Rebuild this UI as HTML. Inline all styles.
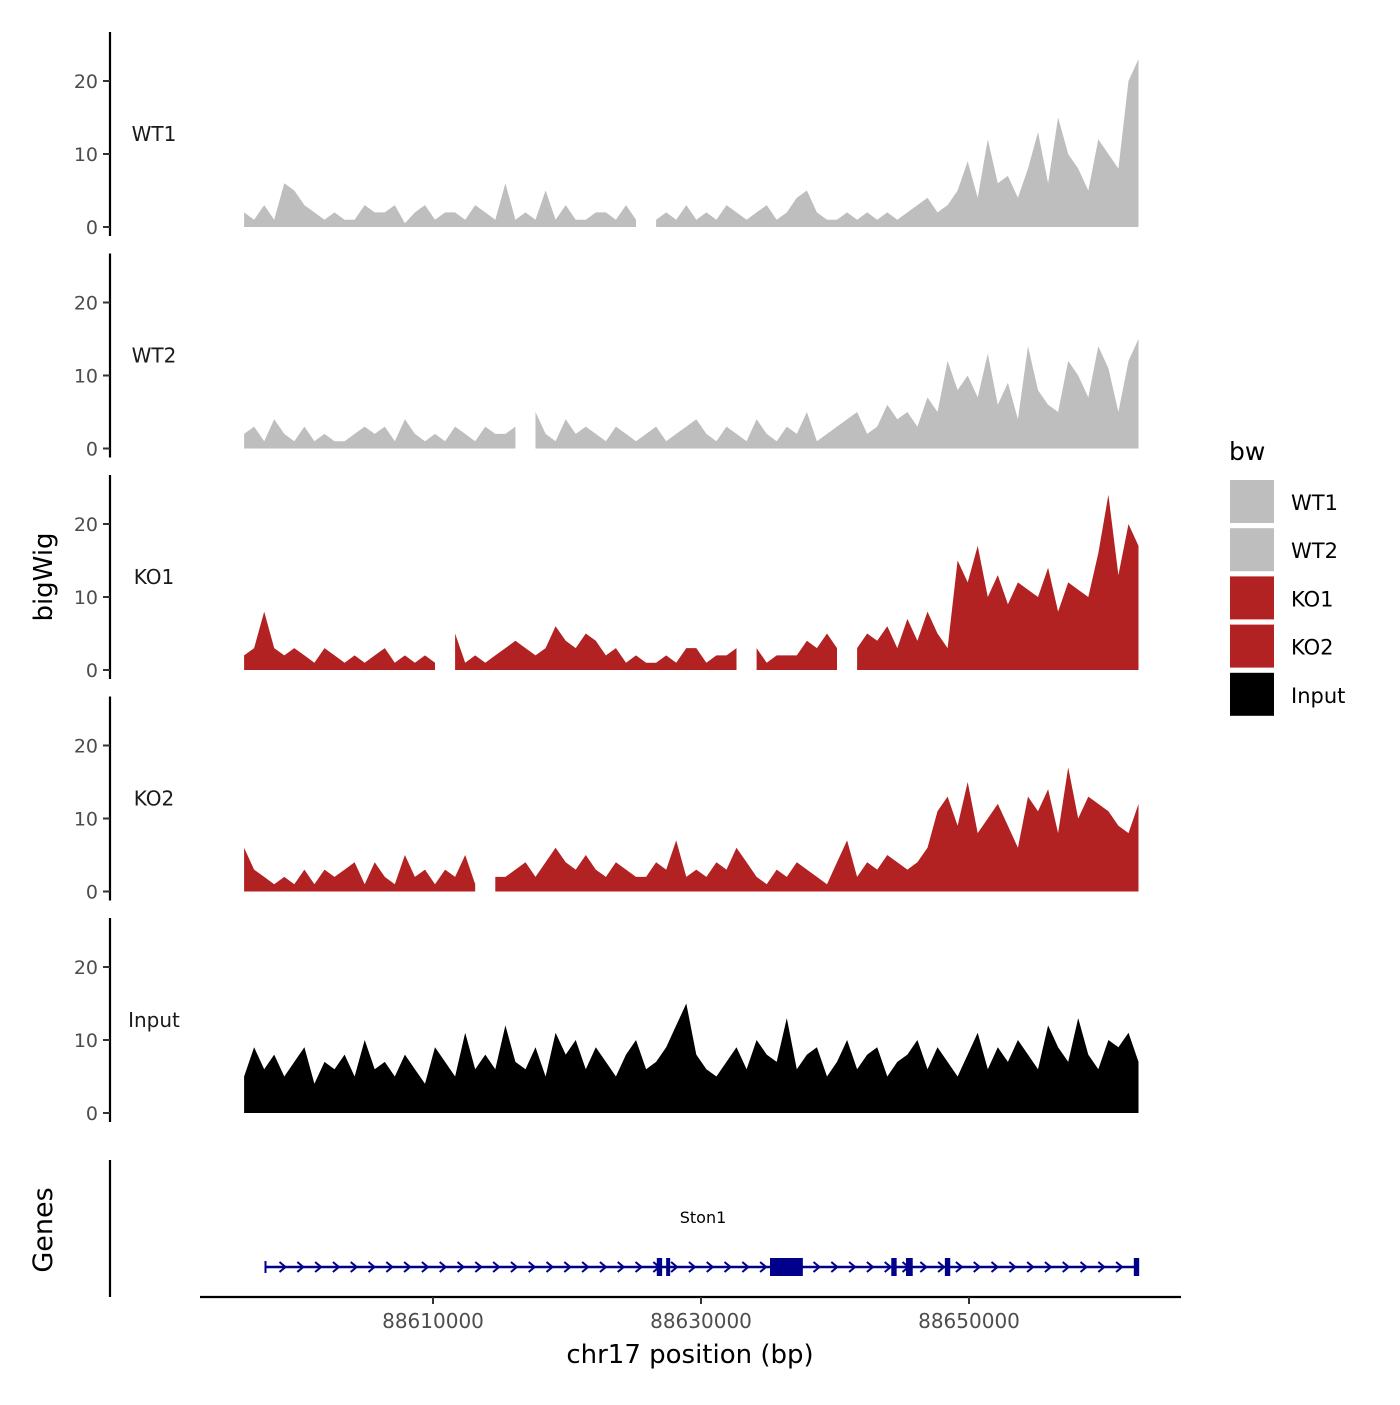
<!DOCTYPE html>
<html><head><meta charset="utf-8"><style>
body{margin:0;background:#fff}
svg{font-family:"DejaVu Sans","Liberation Sans",sans-serif}
</style></head><body>
<svg id="c" width="1400" height="1400" viewBox="0 0 1400 1400" xmlns="http://www.w3.org/2000/svg"></svg>
<script>
const binStart = 88595900;
const binSize = 750;
const trackNames = ["WT1","WT2","KO1","KO2","Input"];
const trackColors = ["#bebebe","#bebebe","#b22222","#b22222","#000000"];
const yTicks = [0,10,20];
const xTicks = [88610000,88630000,88650000];
const wt1 = [2,1,3,1,6,5,3,2,1,2,1,1,3,2,2,3,0.5,2,3,1,2,2,1,3,2,1,6,1,2,1,5,1,3,1,1,2,2,1,3,1,null,1,2,1,3,1,2,1,3,2,1,2,3,1,2,4,5,2,1,1,2,1,2,1,2,1,2,3,4,2,3,5,9,4,12,6,7,4,8,13,6,15,10,8,5,12,10,8,20,23];
const wt2 = [2,3,1,4,2,1,3,1,2,1,1,2,3,2,3,1,4,2,1,2,1,3,2,1,3,2,2,3,null,5,2,1,4,2,3,2,1,3,2,1,2,3,1,2,3,4,2,1,3,2,1,4,2,1,3,2,5,1,2,3,4,5,2,3,6,4,5,3,7,5,12,8,10,7,13,6,9,4,14,8,6,5,12,10,7,14,11,5,12,15];
const ko1 = [2,3,8,3,2,3,2,1,3,2,1,2,1,2,3,1,2,1,2,1,null,5,1,2,1,2,3,4,3,2,3,6,4,3,5,4,2,3,1,2,1,1,2,1,3,3,1,2,2,3,null,3,1,2,2,2,4,3,5,3,null,3,5,4,6,3,7,4,8,5,3,15,12,17,10,13,9,12,11,10,14,8,12,11,10,16,24,13,20,17];
const ko2 = [6,3,2,1,2,1,3,1,3,2,3,4,1,4,2,1,5,2,3,1,3,2,5,1,null,2,2,3,4,2,4,6,4,3,5,3,2,4,3,2,2,4,3,7,2,3,2,4,3,6,4,2,1,3,2,4,3,2,1,4,7,2,4,3,5,4,3,4,6,11,13,9,15,8,10,12,9,6,13,11,14,8,17,10,13,12,11,9,8,12];
const inp = [5,9,6,8,5,7,9,4,7,6,8,5,10,6,7,5,8,6,4,9,7,5,11,6,8,6,12,7,6,9,5,11,8,10,6,9,7,5,8,10,6,7,9,12,15,8,6,5,7,9,6,10,8,7,13,6,8,9,5,7,10,6,8,9,5,7,8,10,6,9,7,5,8,11,6,9,7,10,8,6,12,9,7,13,8,6,10,9,11,7];
const trackData = [wt1,wt2,ko1,ko2,inp];
const exonStarts = [88626700,88627400,88644200,88645300,88648200,88662300];
const exonEnds =   [88627100,88627550,88644600,88645800,88648600,88662700];
const geneStart = 88597500, geneEnd = 88662600;
const utrStart = 88635150, utrEnd = 88637600;

const NS="http://www.w3.org/2000/svg";
const svg=document.getElementById('c');
function mk(t,a,p){const e=document.createElementNS(NS,t);for(const k in a)e.setAttribute(k,a[k]);(p||svg).appendChild(e);return e;}
const xs=v=>433+(v-88610000)*268/20000;
const zero=[227,448.5,670,891.5,1113];
const ys=(v,k)=>zero[k]-v*7.3;

trackData.forEach((d,k)=>{
  const g=mk('g',{});
  
  
  let seg=[];
  const flush=()=>{ if(seg.length){ let p='M'+seg[0][0]+','+zero[k]; seg.forEach(q=>p+='L'+q[0]+','+q[1]); p+='L'+seg[seg.length-1][0]+','+zero[k]+'Z';
    const a=mk('path',{d:p,fill:trackColors[k]},g);
    
     } seg=[]; };
  d.forEach((v,i)=>{ if(v===null){flush();return;} seg.push([xs(binStart+i*binSize).toFixed(1),ys(v,k).toFixed(1)]); });
  flush();
  const ax=mk('line',{x1:110,x2:110,y1:zero[k]-195,y2:zero[k]+9,stroke:'#000','stroke-width':2.2},g);
  
  
  yTicks.forEach(t=>{
    mk('line',{x1:103,x2:110,y1:ys(t,k),y2:ys(t,k),stroke:'#333','stroke-width':2},g);
    const tx=mk('text',{x:98,y:ys(t,k)+7,'text-anchor':'end','font-size':19,fill:'#4d4d4d'},g);
    tx.textContent=t;
    
    
  });
  const lb=mk('text',{x:154,y:zero[k]-86,'text-anchor':'middle','font-size':20,fill:'#1a1a1a'},g);
  lb.textContent=trackNames[k];
  
  
});

const gg=mk('g',{});


mk('line',{x1:110,x2:110,y1:1160,y2:1297,stroke:'#000','stroke-width':2.2},gg);
mk('line',{x1:xs(geneStart),x2:xs(geneEnd),y1:1267,y2:1267,stroke:'#00008b','stroke-width':2.5},gg);
for(let x=xs(geneStart)+17;x<xs(geneEnd)-8;x+=17.8){
  mk('path',{d:`M${x-3},${1262}L${x+3},1267L${x-3},1272`,stroke:'#00008b','stroke-width':2,fill:'none'},gg);
}
mk('rect',{x:xs(utrStart),y:1258,width:xs(utrEnd)-xs(utrStart),height:18,fill:'#00008b'},gg);
exonStarts.forEach((s,i)=>{
  const r=mk('rect',{x:xs(s),y:1258,width:Math.max(4,xs(exonEnds[i])-xs(s)),height:18,fill:'#00008b'},gg);
  
  
});
mk('rect',{x:xs(geneStart)-1,y:1261,width:2,height:12,fill:'#00008b'},gg);
const gl=mk('text',{x:703,y:1223,'text-anchor':'middle','font-size':16,fill:'#000'},gg);
gl.textContent='Ston1';



const xa=mk('line',{x1:200,x2:1181,y1:1297,y2:1297,stroke:'#000','stroke-width':2.2});


xTicks.forEach(t=>{
  mk('line',{x1:xs(t),x2:xs(t),y1:1297,y2:1304,stroke:'#333','stroke-width':2});
  const tx=mk('text',{x:xs(t),y:1328,'text-anchor':'middle','font-size':20,fill:'#4d4d4d'});
  tx.textContent=t;
  
  
});
const xt=mk('text',{x:690,y:1363,'text-anchor':'middle','font-size':26,fill:'#000'});
xt.textContent='chr17 position (bp)';


const yt=mk('text',{x:0,y:0,'text-anchor':'middle','font-size':26,fill:'#000',transform:'translate(52,577) rotate(-90)'});
yt.textContent='bigWig';


const gt=mk('text',{x:0,y:0,'text-anchor':'middle','font-size':27,fill:'#000',transform:'translate(52,1230) rotate(-90)'});
gt.textContent='Genes';



const lg=mk('g',{});


const lt=mk('text',{x:1229,y:460,'font-size':25,fill:'#000'},lg);
lt.textContent='bw';
trackNames.forEach((n,i)=>{
  const y=480+i*48.2;
  const r=mk('rect',{x:1230,y:y,width:44,height:43,fill:trackColors[i]},lg);
  
  
  const t=mk('text',{x:1291,y:y+30,'font-size':21,fill:'#000'},lg);
  t.textContent=n;
  
  
});
</script>
</body></html>
